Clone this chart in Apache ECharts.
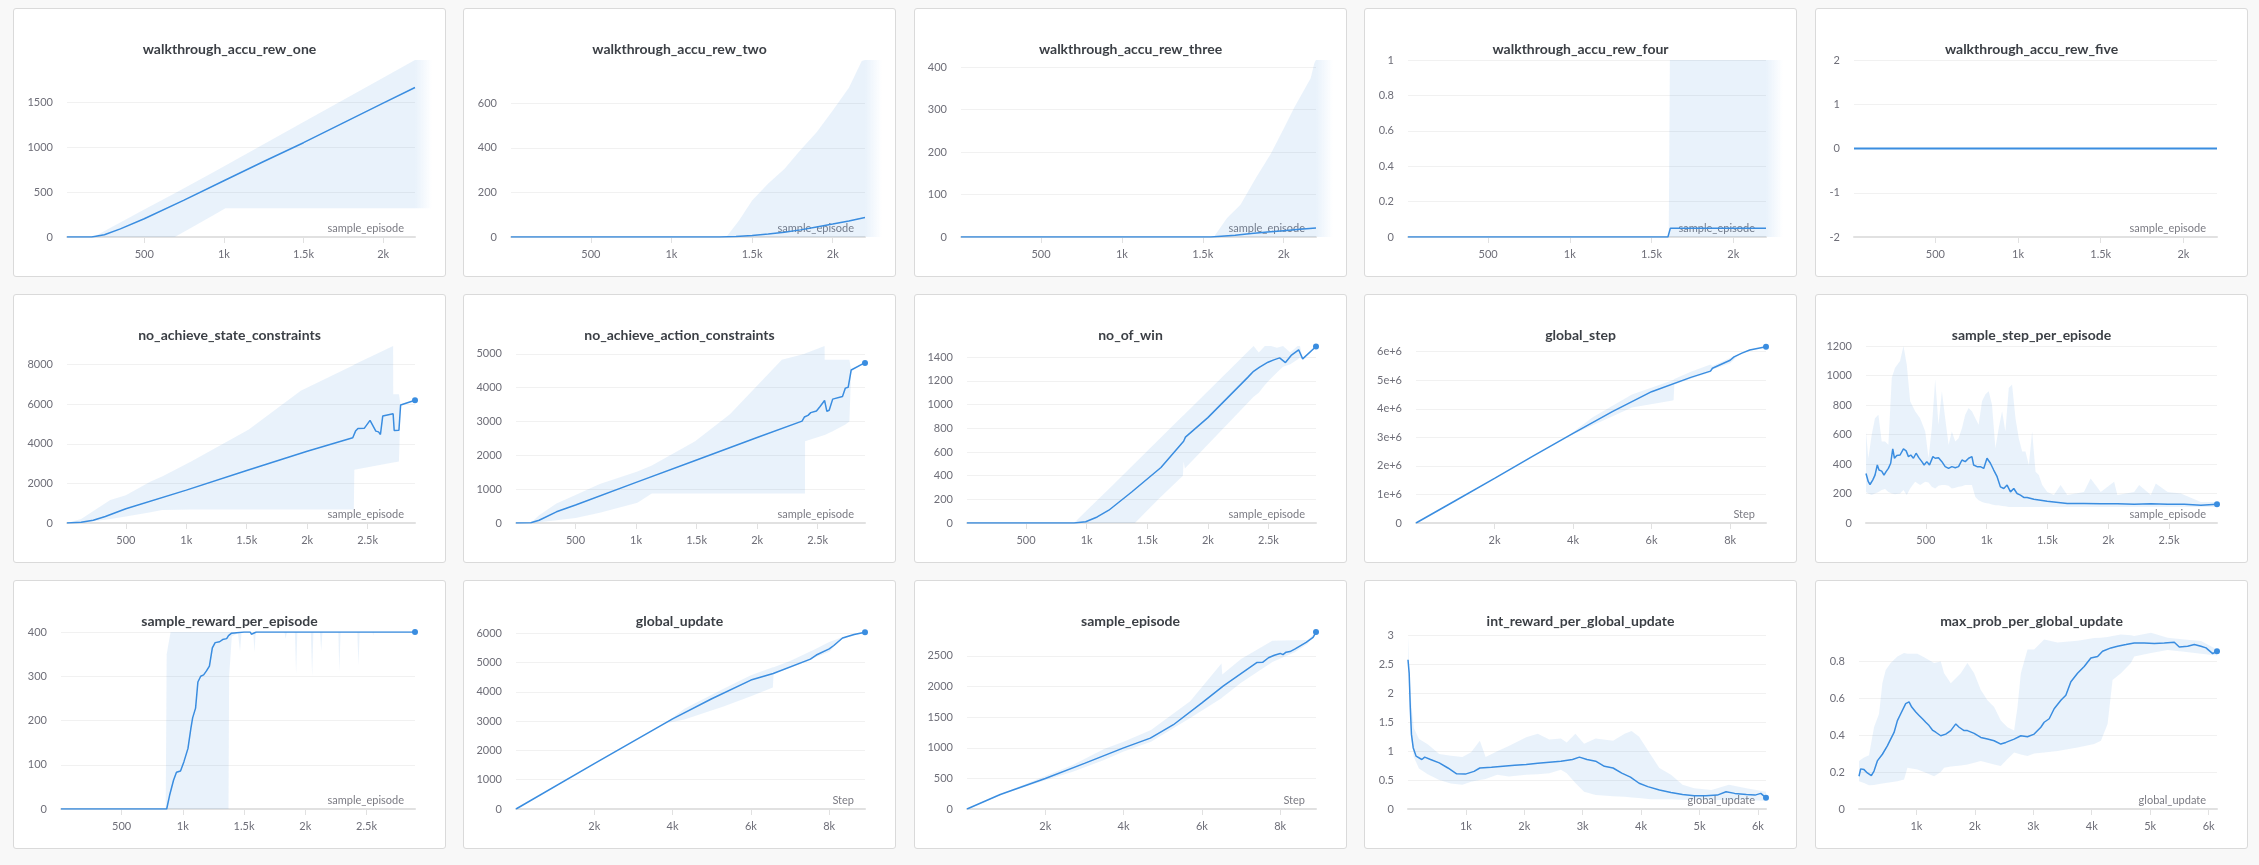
<!DOCTYPE html>
<html>
<head>
<meta charset="utf-8">
<script src="https://cdn.jsdelivr.net/npm/echarts@6/dist/echarts.min.js"></script>
<style>
  html, body { margin: 0; padding: 0; background: #f8f8f8; }
  #wrap { position: relative; width: 2259px; height: 865px; }
  .panel { position: absolute; width: 433px; height: 269px; background: #fff;
           border: 1px solid #dadada; border-radius: 3px; box-sizing: border-box; }
  .chart { width: 100%; height: 100%; }
</style>
</head>
<body>
<div id="wrap"></div>
<script>
// ---- tick labels ----
const epTicksShort = [500, 1000, 1500, 2000];
const epTicksLong = [500, 1000, 1500, 2000, 2500];
const stepTicks = [2000, 4000, 6000, 8000];
const updateTicks = [1000, 2000, 3000, 4000, 5000, 6000];

// ---- walkthrough_accu_rew_one ----
const rewOneX = [15, 170, 250, 350, 500, 750, 1000, 1250, 1500, 1750, 2000, 2200];
const rewOneY = [0, 0, 25, 90, 203, 410, 626, 840, 1049, 1270, 1490, 1663];
const rewOneBandX = [15, 181, 500, 692, 931, 1010, 1500, 2000, 2200];
const rewOneLo = [0, 0, 0, 0, 240, 320, 320, 320, 320];
const rewOneHi = [0, 0, 305, 488, 717, 795, 1278, 1771, 1969];
const rewOneTicks = [0, 500, 1000, 1500];

// ---- walkthrough_accu_rew_two ----
const rewTwoX = [5, 1300, 1400, 1500, 1600, 1700, 1800, 1900, 2000, 2100, 2200];
const rewTwoY = [0, 0, 2, 7, 13, 21, 32, 45, 58, 72, 87];
const rewTwoBandX = [5, 1340, 1420, 1500, 1600, 1700, 1800, 1900, 2000, 2100, 2180, 2200];
const rewTwoLo = [0, 0, 0, 0, 0, 0, 0, 0, 0, 0, 0, 0];
const rewTwoHi = [0, 0, 75, 164, 240, 305, 390, 470, 567, 670, 790, 794];
const rewTwoTicks = [0, 200, 400, 600];

// ---- walkthrough_accu_rew_three ----
const rewThreeX = [5, 1550, 1700, 1800, 1900, 2000, 2100, 2200];
const rewThreeY = [0, 0, 4, 8, 12, 15, 18, 21];
const rewThreeBandX = [5, 1568, 1650, 1733, 1830, 1919, 2000, 2064, 2167, 2190, 2200];
const rewThreeLo = [0, 0, 0, 0, 0, 0, 0, 0, 0, 0, 0];
const rewThreeHi = [0, 0, 45, 76, 140, 195, 255, 304, 374, 410, 417];
const rewThreeTicks = [0, 100, 200, 300, 400];

// ---- walkthrough_accu_rew_four ----
const rewFourX = [10, 1600, 1615, 2200];
const rewFourY = [0, 0, 0.05, 0.05];
const rewFourBandX = [10, 1605, 1612, 2200];
const rewFourLo = [0, 0, 0, 0];
const rewFourHi = [0, 0, 1, 1];
const rewFourTicks = [0, 0.2, 0.4, 0.6, 0.8, 1];

// ---- walkthrough_accu_rew_five ----
const rewFiveX = [8, 2203];
const rewFiveY = [0, 0];
const rewFiveTicks = [-2, -1, 0, 1, 2];

// ---- no_achieve_state_constraints ----
const stateX = [13, 130, 230, 330, 500, 1000, 1500, 2000, 2377, 2400, 2420, 2434, 2472, 2520, 2568, 2590, 2606, 2625, 2711, 2720, 2759, 2773, 2892];
const stateY = [0, 35, 140, 330, 720, 1660, 2650, 3620, 4300, 4640, 4770, 4700, 4780, 5180, 4640, 4600, 4470, 5400, 5520, 4670, 4680, 5960, 6200];
const stateBandX = [13, 130, 371, 500, 705, 800, 1040, 1517, 1947, 2386, 2390, 2711, 2712, 2759, 2773, 2892];
const stateLo = [0, 0, 200, 330, 540, 660, 680, 680, 680, 680, 2685, 3050, 3050, 3109, 5960, 6200];
const stateHi = [0, 200, 1155, 1400, 2090, 2350, 3109, 4723, 6677, 7977, 8000, 8937, 6507, 6507, 5960, 6200];
const stateTicks = [0, 2000, 4000, 6000, 8000];

// ---- no_achieve_action_constraints ----
const actionX = [8, 130, 199, 342, 500, 1000, 1500, 2000, 2371, 2390, 2420, 2443, 2490, 2520, 2557, 2576, 2595, 2624, 2705, 2729, 2752, 2777, 2872, 2891];
const actionY = [0, 5, 80, 330, 530, 1200, 1860, 2525, 3010, 3130, 3180, 3260, 3310, 3440, 3620, 3300, 3330, 3660, 3740, 3985, 4010, 4520, 4700, 4730];
const actionBandX = [8, 130, 199, 342, 500, 700, 1011, 1130, 1488, 1775, 2204, 2395, 2396, 2557, 2558, 2624, 2729, 2762, 2777, 2891];
const actionLo = [0, 0, 20, 80, 150, 300, 600, 875, 875, 875, 875, 875, 2416, 2600, 2600, 2714, 2913, 3000, 4520, 4730];
const actionHi = [0, 0, 230, 577, 825, 1150, 1521, 1700, 2416, 3211, 4821, 5000, 5010, 5229, 4821, 4821, 4821, 4821, 4520, 4730];
const actionTicks = [0, 1000, 2000, 3000, 4000, 5000];

// ---- no_of_win ----
const winX = [13, 896, 992, 1087, 1183, 1374, 1613, 1800, 1815, 2000, 2329, 2377, 2424, 2496, 2544, 2592, 2640, 2687, 2749, 2782, 2892];
const winY = [0, 0, 11, 51, 108, 264, 469, 690, 725, 890, 1230, 1281, 1315, 1358, 1378, 1395, 1355, 1415, 1463, 1386, 1491];
const winBandX = [13, 896, 1000, 1200, 1398, 1600, 1794, 1800, 1810, 2000, 2200, 2377, 2420, 2470, 2520, 2570, 2620, 2680, 2740, 2760, 2782, 2892];
const winLo = [0, 0, 0, 0, 0, 208, 400, 520, 460, 663, 877, 1066, 1100, 1165, 1220, 1272, 1320, 1340, 1380, 1400, 1386, 1491];
const winHi = [0, 0, 105, 305, 505, 710, 905, 911, 921, 1113, 1315, 1494, 1440, 1494, 1494, 1480, 1494, 1440, 1494, 1494, 1386, 1491];
const winTicks = [0, 200, 400, 600, 800, 1000, 1200, 1400];

// ---- global_step ----
const gStepX = [0, 1000, 2000, 3000, 4000, 5000, 6000, 7000, 7500, 7550, 8000, 8100, 8300, 8500, 8914];
const gStepY = [0, 780000, 1560000, 2360000, 3140000, 3900000, 4600000, 5100000, 5320000, 5420000, 5700000, 5820000, 5950000, 6060000, 6170000];
const gStepBandX = [0, 3800, 4500, 5500, 6500, 6560, 6580, 7000, 7500, 7550, 8000, 8200, 8300, 8914];
const gStepLo = [0, 2980000, 3420000, 4050000, 4280000, 4300000, 4850000, 5050000, 5280000, 5380000, 5600000, 5850000, 5950000, 6170000];
const gStepHi = [0, 2980000, 3700000, 4500000, 4980000, 5020000, 5040000, 5300000, 5550000, 5500000, 5780000, 5900000, 5950000, 6170000];
const gStepTicks = [0, 1000000, 2000000, 3000000, 4000000, 5000000, 6000000];

// ---- sample_step_per_episode ----
const stepEpX = [8, 27, 41, 63, 82, 101, 115, 137, 156, 173, 192, 211, 228, 242, 261, 288, 316, 338, 357, 376,
  398, 420, 442, 467, 486, 508, 530, 558, 577, 604, 632, 659, 687, 714, 742, 769, 797, 824, 852, 879,
  893, 921, 948, 976, 1003, 1031, 1058, 1086, 1113, 1141, 1168, 1196, 1223, 1250, 1278, 1305, 1333, 1388, 1443, 1498,
  1553, 1663, 1800, 1938, 2075, 2213, 2350, 2488, 2625, 2762, 2894];
const stepEpY = [336, 280, 261, 291, 325, 393, 359, 352, 325, 348, 370, 405, 502, 439, 457, 461, 502, 489, 450, 461,
  439, 473, 443, 416, 393, 416, 393, 450, 439, 443, 416, 382, 370, 382, 375, 382, 427, 416, 439, 450,
  393, 382, 382, 370, 439, 405, 359, 314, 245, 234, 257, 211, 234, 200, 189, 173, 173, 161, 155, 148,
  143, 132, 132, 130, 130, 127, 130, 127, 127, 120, 127];
const stepEpBandX = [8, 27, 55, 82, 110, 137, 165, 192, 220, 247, 288, 316, 343, 371, 412, 453, 495, 522, 549, 577,
  604, 632, 659, 687, 714, 742, 769, 797, 824, 852, 879, 907, 934, 962, 989, 1017, 1044, 1072, 1099, 1127,
  1154, 1182, 1209, 1237, 1264, 1292, 1319, 1347, 1374, 1402, 1429, 1457, 1498, 1553, 1608, 1663, 1800, 1855, 1938, 2048,
  2075, 2213, 2254, 2350, 2391, 2488, 2598, 2625, 2762, 2894];
const stepEpLo = [211, 200, 189, 200, 211, 223, 230, 211, 200, 195, 200, 223, 189, 234, 280, 257, 280, 275, 245, 234,
  252, 257, 257, 252, 234, 239, 245, 250, 257, 257, 257, 177, 155, 143, 136, 132, 125, 120, 120, 116,
  114, 109, 109, 109, 109, 109, 109, 109, 109, 109, 109, 109, 109, 109, 109, 109, 109, 109, 109, 109,
  109, 109, 109, 109, 109, 109, 109, 109, 109, 109];
const stepEpHi = [620, 439, 598, 711, 734, 552, 552, 530, 984, 1052, 1098, 1200, 1075, 825, 757, 711, 620, 439, 643, 973,
  666, 893, 711, 530, 620, 552, 575, 643, 734, 780, 757, 711, 666, 825, 871, 893, 802, 507, 643, 757,
  620, 916, 939, 711, 575, 484, 484, 393, 620, 348, 325, 257, 211, 189, 257, 189, 211, 302, 211, 280,
  189, 211, 257, 189, 268, 211, 200, 189, 143, 143];
const stepEpTicks = [0, 200, 400, 600, 800, 1000, 1200];

// ---- sample_reward_per_episode ----
const rewardEpX = [5, 868, 892, 924, 948, 981, 1009, 1042, 1066, 1080, 1104, 1123, 1146, 1170, 1193, 1217, 1241, 1264, 1300, 1325,
  1358, 1373, 1396, 1420, 1500, 1550, 1560, 1600, 1700, 1710, 1720, 1950, 1960, 1970, 2000, 2100, 2110, 2120, 2350, 2360,
  2370, 2400, 2896];
const rewardEpY = [0, 0, 31, 65, 83, 86, 107, 137, 183, 206, 228, 287, 300, 303, 312, 323, 364, 376, 378, 383,
  385, 392, 397, 398, 400, 400, 395, 400, 400, 396, 400, 400, 396, 400, 400, 400, 396, 400, 400, 396,
  400, 400, 400];
const rewardEpBandX = [5, 860, 868, 900, 1373, 1378, 1400, 1450, 1467, 1480, 1575, 1585, 1595, 1830, 1840, 1850, 1915, 1925, 1935, 2045,
  2056, 2066, 2120, 2130, 2140, 2270, 2278, 2288, 2425, 2434, 2444, 2550, 2555, 2560, 2896];
const rewardEpLo = [0, 0, 0, 0, 0, 300, 390, 398, 357, 400, 400, 354, 400, 400, 385, 400, 400, 305, 400, 400,
  300, 400, 400, 357, 400, 400, 310, 400, 400, 325, 400, 400, 392, 400, 400];
const rewardEpHi = [0, 0, 350, 400, 400, 400, 400, 400, 400, 400, 400, 400, 400, 400, 400, 400, 400, 400, 400, 400,
  400, 400, 400, 400, 400, 400, 400, 400, 400, 400, 400, 400, 400, 400, 400];
const rewardEpTicks = [0, 100, 200, 300, 400];

// ---- global_update ----
const gUpdX = [0, 2000, 4000, 5000, 6000, 6570, 7520, 7670, 8000, 8118, 8340, 8634, 8914];
const gUpdY = [0, 1550, 3075, 3763, 4400, 4625, 5114, 5254, 5464, 5580, 5837, 5953, 6035];
const gUpdBandX = [0, 3800, 4300, 5300, 6000, 6560, 6580, 7000, 7500, 7600, 8000, 8300, 8914];
const gUpdLo = [0, 2920, 3050, 3500, 3850, 4150, 4620, 4820, 5070, 5150, 5370, 5780, 6035];
const gUpdHi = [0, 2920, 3420, 4100, 4560, 4840, 4840, 5050, 5370, 5430, 5700, 5840, 6035];
const gUpdTicks = [0, 1000, 2000, 3000, 4000, 5000, 6000];

// ---- sample_episode ----
const sEpX = [0, 850, 2000, 3000, 4000, 4683, 5272, 6000, 6550, 7190, 7400, 7550, 7700, 7850, 8000, 8070, 8150, 8250, 8370, 8663, 8840, 8914];
const sEpY = [0, 236, 499, 745, 998, 1157, 1376, 1732, 2010, 2297, 2390, 2395, 2470, 2510, 2540, 2520, 2560, 2570, 2610, 2719, 2801, 2889];
const sEpBandX = [0, 1000, 2000, 2700, 3500, 4000, 4700, 5700, 6500, 6520, 7000, 7800, 8370, 8700, 8914];
const sEpLo = [0, 260, 470, 610, 800, 937, 1100, 1486, 1810, 1820, 2060, 2400, 2560, 2700, 2889];
const sEpHi = [0, 280, 540, 720, 980, 1100, 1290, 1760, 2374, 2198, 2450, 2746, 2757, 2760, 2889];
const sEpTicks = [0, 500, 1000, 1500, 2000, 2500];

// ---- int_reward_per_global_update ----
const intRewX = [8, 28, 47, 67, 97, 146, 245, 294, 394, 543, 692, 841, 990, 1139, 1238, 1437, 1635, 1834, 2032, 2230,
  2428, 2627, 2825, 2944, 3073, 3222, 3371, 3520, 3669, 3818, 3966, 4115, 4314, 4512, 4710, 4909, 5107, 5306, 5455, 5603,
  5802, 5951, 6050, 6139];
const intRewY = [2.58, 2.35, 1.76, 1.29, 1.06, 0.914, 0.856, 0.897, 0.856, 0.797, 0.709, 0.609, 0.603, 0.65, 0.709, 0.72, 0.738, 0.756, 0.768, 0.79,
  0.81, 0.826, 0.856, 0.897, 0.856, 0.826, 0.738, 0.709, 0.621, 0.551, 0.445, 0.387, 0.328, 0.287, 0.252, 0.229, 0.229, 0.24, 0.299, 0.27,
  0.252, 0.24, 0.27, 0.193];
const intRewBandX = [8, 28, 67, 107, 196, 345, 544, 742, 940, 1089, 1238, 1337, 1536, 1734, 2032, 2230, 2428, 2627, 2726, 2875,
  3024, 3222, 3520, 3718, 3837, 3966, 4164, 4313, 4512, 4710, 4908, 5206, 5504, 5801, 6139];
const intRewLo = [2.58, 2.0, 1.2, 0.9, 0.7, 0.6, 0.5, 0.44, 0.42, 0.47, 0.5, 0.52, 0.59, 0.56, 0.59, 0.6, 0.62, 0.68, 0.62, 0.45,
  0.3, 0.24, 0.22, 0.21, 0.2, 0.19, 0.17, 0.17, 0.17, 0.16, 0.16, 0.15, 0.16, 0.16, 0.14];
const intRewHi = [3.0, 2.4, 1.8, 1.4, 1.21, 1.12, 0.95, 0.92, 0.9, 0.98, 1.18, 0.9, 1.0, 1.09, 1.24, 1.3, 1.2, 1.22, 1.15, 1.3,
  1.13, 1.22, 1.18, 1.3, 1.35, 1.25, 0.94, 0.71, 0.59, 0.42, 0.36, 0.33, 0.42, 0.36, 0.3];
const intRewTicks = [0, 0.5, 1, 1.5, 2, 2.5, 3];

// ---- max_prob_per_global_update ----
const maxProbX = [18, 47, 104, 161, 189, 229, 275, 332, 418, 503, 560, 618, 675, 732, 760, 817, 874, 920, 989, 1046,
  1103, 1160, 1217, 1274, 1331, 1417, 1502, 1588, 1674, 1731, 1816, 1873, 1988, 2102, 2216, 2330, 2444, 2530, 2672, 2787,
  2901, 3015, 3129, 3186, 3272, 3357, 3472, 3557, 3643, 3757, 3871, 3985, 4100, 4185, 4328, 4442, 4585, 4727, 4899, 5070,
  5241, 5412, 5498, 5641, 5755, 5869, 5955, 6069, 6143];
const maxProbY = [0.177, 0.217, 0.213, 0.195, 0.188, 0.18, 0.205, 0.26, 0.296, 0.341, 0.378, 0.414, 0.478, 0.515, 0.515, 0.57, 0.579, 0.551, 0.524, 0.506,
  0.488, 0.469, 0.451, 0.427, 0.415, 0.396, 0.405, 0.424, 0.46, 0.442, 0.424, 0.424, 0.409, 0.387, 0.378, 0.369, 0.351, 0.36, 0.378, 0.396,
  0.391, 0.405, 0.442, 0.469, 0.488, 0.542, 0.588, 0.615, 0.688, 0.734, 0.77, 0.816, 0.825, 0.853, 0.871, 0.88, 0.889, 0.898, 0.898, 0.895,
  0.898, 0.902, 0.876, 0.88, 0.889, 0.88, 0.871, 0.84, 0.853];
const maxProbBandX = [18, 104, 189, 275, 361, 418, 475, 560, 675, 789, 846, 1017, 1131, 1303, 1417, 1474, 1588, 1759, 1873, 1988,
  2102, 2216, 2330, 2444, 2558, 2672, 2730, 2787, 2901, 3015, 3186, 3414, 3757, 4042, 4157, 4271, 4356, 4499, 4670, 4727,
  5013, 5298, 5584, 5869, 6143];
const maxProbLo = [0.15, 0.14, 0.128, 0.13, 0.135, 0.138, 0.14, 0.145, 0.15, 0.159, 0.223, 0.214, 0.2, 0.177, 0.2, 0.223, 0.23, 0.235, 0.241, 0.25,
  0.26, 0.25, 0.241, 0.232, 0.27, 0.305, 0.3, 0.295, 0.287, 0.3, 0.305, 0.314, 0.332, 0.351, 0.369, 0.46, 0.698, 0.734, 0.789, 0.825,
  0.844, 0.86, 0.85, 0.84, 0.83];
const maxProbHi = [0.26, 0.278, 0.29, 0.442, 0.515, 0.68, 0.752, 0.789, 0.825, 0.844, 0.84, 0.84, 0.82, 0.79, 0.798, 0.734, 0.68, 0.734, 0.789, 0.734,
  0.643, 0.588, 0.551, 0.478, 0.442, 0.424, 0.551, 0.734, 0.862, 0.862, 0.917, 0.9, 0.91, 0.925, 0.926, 0.93, 0.935, 0.944, 0.94, 0.935,
  0.953, 0.926, 0.917, 0.908, 0.862];
const maxProbTicks = [0, 0.2, 0.4, 0.6, 0.8];

// ---- panels ----
const LINE = '#3a8de0';
const BAND = 'rgba(55,138,221,0.11)';

const panels = [
  { title: 'walkthrough_accu_rew_one', lx: rewOneX, ly: rewOneY, bx: rewOneBandX, lo: rewOneLo, hi: rewOneHi, xt: epTicksShort, yt: rewOneTicks, ymin: 0, ymax: 1969, left: 53, name: 'sample_episode', fade: true },
  { title: 'walkthrough_accu_rew_two', lx: rewTwoX, ly: rewTwoY, bx: rewTwoBandX, lo: rewTwoLo, hi: rewTwoHi, xt: epTicksShort, yt: rewTwoTicks, ymin: 0, ymax: 794, left: 47, name: 'sample_episode', fade: true },
  { title: 'walkthrough_accu_rew_three', lx: rewThreeX, ly: rewThreeY, bx: rewThreeBandX, lo: rewThreeLo, hi: rewThreeHi, xt: epTicksShort, yt: rewThreeTicks, ymin: 0, ymax: 417, left: 46, name: 'sample_episode', fade: true },
  { title: 'walkthrough_accu_rew_four', lx: rewFourX, ly: rewFourY, bx: rewFourBandX, lo: rewFourLo, hi: rewFourHi, xt: epTicksShort, yt: rewFourTicks, ymin: 0, ymax: 1, left: 43, name: 'sample_episode', fade: true },
  { title: 'walkthrough_accu_rew_five', lx: rewFiveX, ly: rewFiveY, xt: epTicksShort, yt: rewFiveTicks, ymin: -2, ymax: 2, left: 38, name: 'sample_episode', width: 2 },
  { title: 'no_achieve_state_constraints', lx: stateX, ly: stateY, bx: stateBandX, lo: stateLo, hi: stateHi, xt: epTicksLong, yt: stateTicks, ymin: 0, ymax: 8937, left: 53, name: 'sample_episode', dot: true },
  { title: 'no_achieve_action_constraints', lx: actionX, ly: actionY, bx: actionBandX, lo: actionLo, hi: actionHi, xt: epTicksLong, yt: actionTicks, ymin: 0, ymax: 5229, left: 52, name: 'sample_episode', dot: true },
  { title: 'no_of_win', lx: winX, ly: winY, bx: winBandX, lo: winLo, hi: winHi, xt: epTicksLong, yt: winTicks, ymin: 0, ymax: 1495, left: 52, name: 'sample_episode', dot: true },
  { title: 'global_step', lx: gStepX, ly: gStepY, bx: gStepBandX, lo: gStepLo, hi: gStepHi, xt: stepTicks, yt: gStepTicks, ymin: 0, ymax: 6200000, left: 51, name: 'Step', dot: true, sci: true },
  { title: 'sample_step_per_episode', lx: stepEpX, ly: stepEpY, bx: stepEpBandX, lo: stepEpLo, hi: stepEpHi, xt: epTicksLong, yt: stepEpTicks, ymin: 0, ymax: 1200, left: 50, name: 'sample_episode', dot: true },
  { title: 'sample_reward_per_episode', lx: rewardEpX, ly: rewardEpY, bx: rewardEpBandX, lo: rewardEpLo, hi: rewardEpHi, xt: epTicksLong, yt: rewardEpTicks, ymin: 0, ymax: 400, left: 47, name: 'sample_episode', dot: true },
  { title: 'global_update', lx: gUpdX, ly: gUpdY, bx: gUpdBandX, lo: gUpdLo, hi: gUpdHi, xt: stepTicks, yt: gUpdTicks, ymin: 0, ymax: 6040, left: 52, name: 'Step', dot: true },
  { title: 'sample_episode', lx: sEpX, ly: sEpY, bx: sEpBandX, lo: sEpLo, hi: sEpHi, xt: stepTicks, yt: sEpTicks, ymin: 0, ymax: 2890, left: 52, name: 'Step', dot: true },
  { title: 'int_reward_per_global_update', lx: intRewX, ly: intRewY, bx: intRewBandX, lo: intRewLo, hi: intRewHi, xt: updateTicks, yt: intRewTicks, ymin: 0, ymax: 3.06, left: 43, name: 'global_update', dot: true },
  { title: 'max_prob_per_global_update', lx: maxProbX, ly: maxProbY, bx: maxProbBandX, lo: maxProbLo, hi: maxProbHi, xt: updateTicks, yt: maxProbTicks, ymin: 0, ymax: 0.957, left: 43, name: 'global_update', dot: true }
];

const PANEL_LEFT = [13, 463, 914, 1364, 1815];
const PANEL_TOP = [8, 294, 580];

function pairs(xs, ys) {
  const n = Math.min(xs.length, ys.length);
  const out = [];
  for (let i = 0; i < n; i++) out.push([xs[i], ys[i]]);
  return out;
}

function xFmt(v) {
  return v >= 1000 ? (v / 1000) + 'k' : String(v);
}

// min/max band drawn as one polygon: upper edge forward, lower edge back
function bandSeries(p) {
  return {
    type: 'custom',
    silent: true,
    z: 1,
    data: p.bx.map((x, i) => [x, p.lo[i], p.hi[i]]),
    encode: { x: 0, y: [1, 2] },
    renderItem: function (params, api) {
      if (params.dataIndex !== 0) return;
      const pts = [];
      for (let i = 0; i < p.bx.length; i++) pts.push(api.coord([p.bx[i], p.hi[i]]));
      for (let i = p.bx.length - 1; i >= 0; i--) pts.push(api.coord([p.bx[i], p.lo[i]]));
      return { type: 'polygon', shape: { points: pts }, style: { fill: BAND } };
    }
  };
}

function buildOption(p) {
  const series = [];
  if (p.bx) series.push(bandSeries(p));
  const last = p.lx.length - 1;
  series.push({
    type: 'line',
    data: pairs(p.lx, p.ly),
    symbol: 'circle',
    showSymbol: !!p.dot,
    showAllSymbol: true,
    symbolSize: (v, params) => (params.dataIndex === last ? 6 : 0),
    lineStyle: { color: LINE, width: p.width || 1.5 },
    itemStyle: { color: LINE },
    z: 5
  });

  return {
    animation: false,
    textStyle: { fontFamily: 'Lato' },
    title: {
      text: p.title, left: 'center', top: 28,
      textStyle: { fontFamily: 'Lato', fontSize: 14, fontWeight: 'bold', color: '#3b3f45' }
    },
    grid: { left: p.left, right: 30, top: 51, bottom: 39 },
    xAxis: {
      type: 'value',
      min: p.lx[0], max: p.lx[last],
      name: p.name, nameLocation: 'end', nameGap: -7,
      nameTextStyle: { color: '#7b7b83', fontSize: 11, align: 'right', verticalAlign: 'bottom', padding: [0, 4, 3, 0] },
      axisLine: { onZero: false, lineStyle: { color: '#e1e1e1', width: 2 } },
      axisTick: { customValues: p.xt, length: 6, lineStyle: { color: '#e1e1e1' } },
      axisLabel: { customValues: p.xt, formatter: xFmt, color: '#6e6e78', fontSize: 11, margin: 12 },
      splitLine: { show: false }
    },
    yAxis: {
      type: 'value',
      min: p.ymin, max: p.ymax,
      axisLine: { show: false },
      axisTick: { show: false, customValues: p.yt },
      axisLabel: {
        customValues: p.yt, color: '#6e6e78', fontSize: 11, margin: 14,
        formatter: p.sci ? (v => (v === 0 ? '0' : (v / 1e6) + 'e+6')) : (v => String(v))
      },
      splitLine: { lineStyle: { color: '#f1f1f1' } }
    },
    series: series
  };
}

const wrap = document.getElementById('wrap');
panels.forEach((p, i) => {
  const box = document.createElement('div');
  box.className = 'panel';
  box.style.left = PANEL_LEFT[i % 5] + 'px';
  box.style.top = PANEL_TOP[Math.floor(i / 5)] + 'px';
  const el = document.createElement('div');
  el.className = 'chart';
  box.appendChild(el);
  wrap.appendChild(box);

  const chart = echarts.init(el);
  chart.setOption(buildOption(p));

  // soft fade of the band past the end of the axis
  if (p.fade) {
    const k = p.bx.length - 1;
    const top = chart.convertToPixel({ gridIndex: 0 }, [p.bx[k], p.hi[k]]);
    const bot = chart.convertToPixel({ gridIndex: 0 }, [p.bx[k], p.lo[k]]);
    chart.setOption({
      graphic: [{
        type: 'rect', silent: true, z: 0,
        shape: { x: top[0], y: top[1], width: 17, height: bot[1] - top[1] },
        style: {
          fill: new echarts.graphic.LinearGradient(0, 0, 1, 0, [
            { offset: 0, color: BAND },
            { offset: 1, color: 'rgba(55,138,221,0)' }
          ])
        }
      }]
    });
  }
});
</script>
</body>
</html>
